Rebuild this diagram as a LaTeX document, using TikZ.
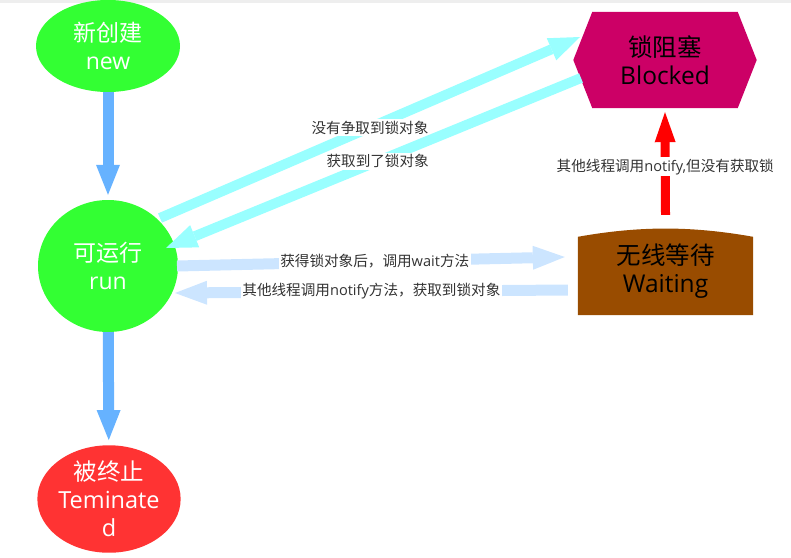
\documentclass[tikz,border=0pt]{standalone}
\usepackage{fontspec}
\setmainfont{Noto Sans CJK SC}
\newfontfamily\lat{Open Sans}
\usetikzlibrary{arrows.meta,calc,shapes.geometric,backgrounds}
\definecolor{cgreen}{HTML}{33FF33}
\definecolor{cred}{HTML}{FF3333}
\definecolor{cmag}{HTML}{CC0066}
\definecolor{cbrown}{HTML}{994C00}
\definecolor{cblue}{HTML}{66B2FF}
\definecolor{ccyan}{HTML}{99FFFF}
\definecolor{clblue}{HTML}{CCE5FF}
\definecolor{cgray}{HTML}{333333}
\definecolor{ctop}{HTML}{EEEEEE}
\begin{document}
\begin{tikzpicture}[x=1pt,y=-1pt,
  statebig/.style={ellipse, inner sep=0pt, align=center, text=white, font=\fontsize{23}{28}\selectfont},
  box/.style={rectangle, inner sep=0pt, align=center, text=black, font=\fontsize{24.5}{28}\selectfont},
  lbl/.style={fill=white, inner sep=1.5pt, text=cgray, font=\fontsize{14.6}{16}\selectfont},
  bluearr/.style={draw=cblue, line width=11pt, -{Triangle[length=30pt,width=24pt,line width=0pt]}},
  cyanarr/.style={draw=ccyan, line width=10pt, -{Triangle[length=31pt,width=24pt,line width=0pt]}},
  lbluearr/.style={draw=clblue, line width=11pt, -{Triangle[length=32pt,width=24pt,line width=0pt]}},
  redarr/.style={draw=red, line width=9pt, -{Triangle[length=30pt,width=21pt,line width=0pt]}}
]
\useasboundingbox (0,0) rectangle (791,557);
\fill[ctop] (0,0) rectangle (791,3);

% state nodes
\node[statebig, fill=cgreen, minimum width=144pt, minimum height=92pt] (new) at (108,46) {新创建\\{\lat new}};
\node[statebig, fill=cgreen, minimum width=140pt, minimum height=132pt] (run) at (108,266) {可运行\\{\lat run}};
\node[statebig, fill=cred, minimum width=138pt, minimum height=104pt, font=\fontsize{23.5}{28}\selectfont] (term) at (109,499) {被终止\\{\lat Teminate}\\{\lat d}};
\node[box, minimum width=183pt, minimum height=96pt] (blk) at (665,60) {锁阻塞\\{\lat Blocked}};
\node[box, minimum width=175pt, minimum height=78pt] (wait) at (665.5,276) {};
\node[box] (waitt) at (665.5,271) {无线等待\\{\lat Waiting}};

\begin{scope}[on background layer]
\fill[cmag] (blk.west) -- ($(blk.north west)+(19,0)$) -- ($(blk.north east)+(-19,0)$) -- (blk.east)
  -- ($(blk.south east)+(-19,0)$) -- ($(blk.south west)+(19,0)$) -- cycle;
\fill[cbrown] (wait.south west) -- (wait.north west)
  .. controls ($(wait.north west)+(62,-11)$) and ($(wait.north east)+(-62,-11)$) .. (wait.north east)
  -- (wait.south east) -- cycle;
\end{scope}

% connectors
\draw[bluearr, shorten >=5pt] (new) -- (run);
\draw[bluearr, shorten >=5pt] (run) -- (term);

\draw[cyanarr] ($(run)+(52,-48)$) -- ($(blk)+(-85,-23)$)
  node[lbl, pos=0.5] {没有争取到锁对象};
\draw[cyanarr] ($(blk)+(-84,18)$) -- ($(run)+(58,-18)$)
  node[lbl, pos=0.49] {获取到了锁对象};

\draw[lbluearr] ($(run)+(69,0)$) -- ($(wait.west)+(-13,-19)$)
  node[lbl, pos=0.51] {获得锁对象后，调用{\lat wait}方法};
\draw[lbluearr] ($(wait.west)+(-10,14)$) -- ($(run)+(67,27)$)
  node[lbl, pos=0.5] {其他线程调用{\lat notify}方法，获取到锁对象};

\draw[redarr] ($(wait.north)+(0,-22)$) -- ($(blk.south)+(0,4)$)
  node[lbl, pos=0.47] {其他线程调用{\lat notify,}但没有获取锁};
\end{tikzpicture}
\end{document}
